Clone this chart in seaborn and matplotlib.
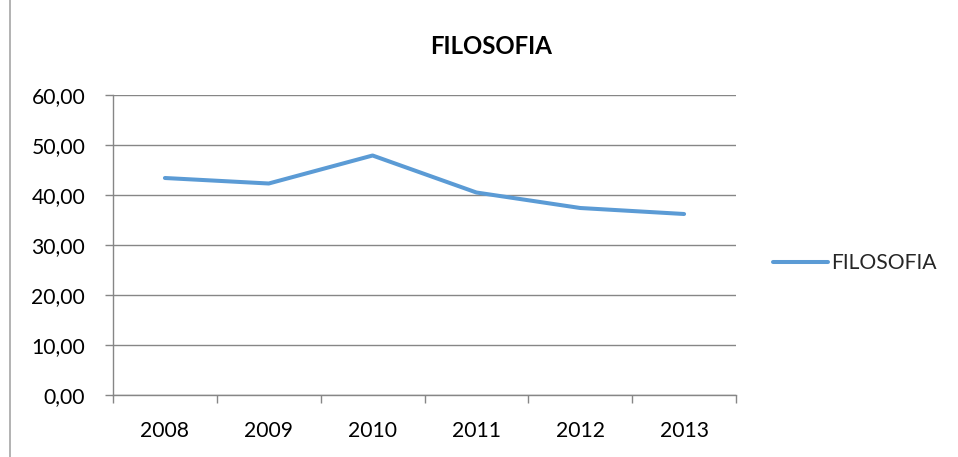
import pandas as pd
import matplotlib
matplotlib.use('Agg')
import matplotlib.pyplot as plt
import seaborn as sns
from matplotlib.lines import Line2D
from matplotlib.ticker import FuncFormatter, FixedLocator

# Datos
years = ['2008', '2009', '2010', '2011', '2012', '2013']
filosofia = [43.4, 42.3, 47.9, 40.5, 37.4, 36.2]
serie = 'FILOSOFIA'

df = pd.DataFrame({'Año': years, 'Valor': filosofia})

sns.set_theme(style='white')
plt.rcParams['font.family'] = ['Lato', 'DejaVu Sans']

GRIS = '#868686'
AZUL = '#5B9BD5'
FS = 15.2

fig = plt.figure(figsize=(9.58, 4.57), dpi=100)
ax = fig.add_axes([113 / 958, 1 - 395 / 457, 623 / 958, 300 / 457])

sns.lineplot(data=df, x='Año', y='Valor', ax=ax, color=AZUL, linewidth=2.9,
             label=serie, sort=False)

ax.set_ylim(0, 60)
ax.set_xlim(-0.5, len(years) - 0.5)
ax.set_yticks(range(0, 61, 10))
ax.yaxis.set_major_formatter(FuncFormatter(lambda v, p: f'{v:.2f}'.replace('.', ',')))
ax.grid(axis='y', color=GRIS, linewidth=1.0)
ax.set_axisbelow(True)

# ticks del eje x en los bordes de las categorías
ax.xaxis.set_minor_locator(FixedLocator([i - 0.5 for i in range(len(years) + 1)]))
ax.tick_params(axis='x', which='major', length=0, pad=19, labelsize=FS, labelcolor='black')
ax.tick_params(axis='x', which='minor', length=6, width=1.0, color=GRIS, bottom=True)
ax.tick_params(axis='y', length=6, width=1.0, color=GRIS, pad=14, labelsize=FS,
               labelcolor='black', left=True)

for s in ['top', 'right']:
    ax.spines[s].set_visible(False)
for s in ['left', 'bottom']:
    ax.spines[s].set_color(GRIS)
    ax.spines[s].set_linewidth(1.0)

ax.set_xlabel('')
ax.set_ylabel('')

fig.text(491 / 958, 1 - 46 / 457, 'FILOSOFIA', ha='center', va='center',
         fontsize=17.3, fontweight='bold', color='black')

ax.legend(loc='center left', bbox_to_anchor=(773 / 958, 1 - 263 / 457),
          bbox_transform=fig.transFigure, frameon=False, borderpad=0,
          borderaxespad=0, handlelength=2.6, handletextpad=0.15, fontsize=FS)

# borde izquierdo del marco del gráfico
fig.add_artist(Line2D([10 / 958, 10 / 958], [0, 1], transform=fig.transFigure,
                      color='#A6A6A6', linewidth=1.2))

fig.savefig('out.png', dpi=100)
